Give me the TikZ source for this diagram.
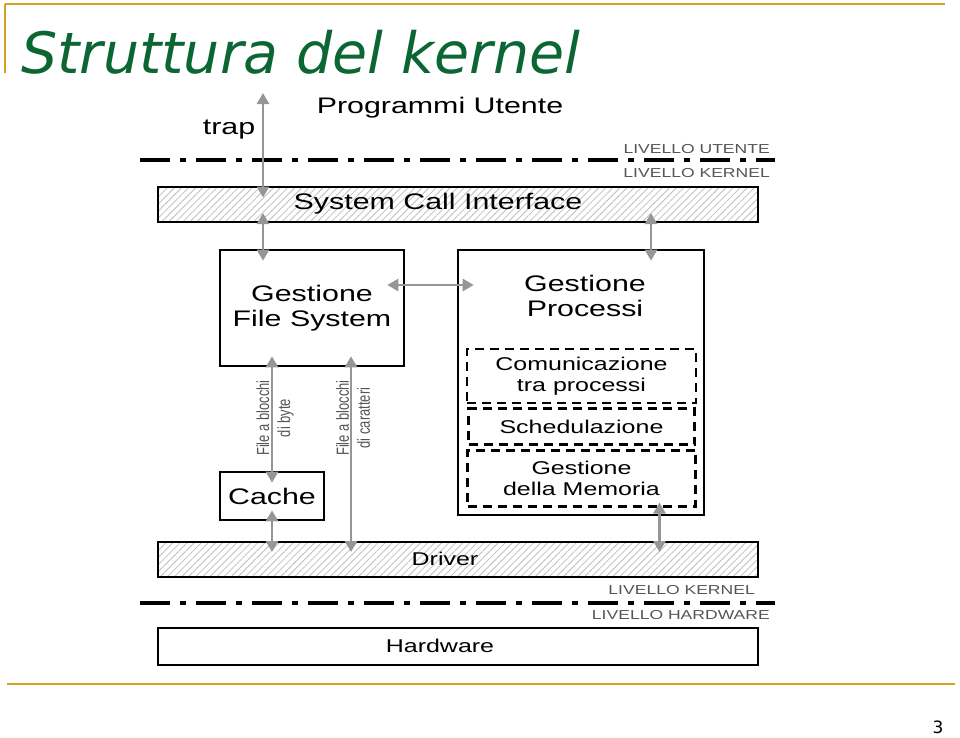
\documentclass[tikz,border=0pt]{standalone}
\usepackage{fontspec}
\newfontfamily\diafont[FakeStretch=1.35]{Liberation Sans}
\newfontfamily\narrowfont[FakeStretch=0.74]{Liberation Sans}
\newfontfamily\titlefont{DejaVu Sans}
\usetikzlibrary{arrows.meta, positioning, patterns.meta, calc}
\definecolor{titlegreen}{RGB}{12,102,52}
\definecolor{slidegold}{RGB}{212,162,30}
\definecolor{arrowgray}{RGB}{150,150,150}
\definecolor{labelgray}{RGB}{85,85,85}

\begin{document}
\begin{tikzpicture}[
    x=1pt, y=-1pt,
    layer/.style={rectangle, draw, line width=2.6pt, preaction={fill=white},
      pattern={Lines[angle=45, distance=5pt, line width=0.8pt]}, pattern color=gray!50,
      minimum width=600pt, minimum height=35pt},
    plain/.style={rectangle, draw, line width=2.6pt, fill=white, align=center},
    part/.style={rectangle, draw, line width=2.6pt, dash pattern=on 9pt off 6pt, align=center},
    border/.style={line width=3.6pt, dash pattern=on 30pt off 10pt on 6pt off 10pt},
    arrow/.style={<->, draw=arrowgray, line width=2.9pt, >={Triangle[length=11pt, width=12pt]}},
    big/.style={font=\diafont\fontsize{22.5}{25}\selectfont},
    small/.style={font=\diafont\fontsize{18.5}{20.5}\selectfont},
    level/.style={font=\diafont\fontsize{13}{15}\selectfont, text=labelgray, anchor=east, inner sep=0pt},
    side/.style={font=\narrowfont\fontsize{17.5}{21}\selectfont, text=labelgray, rotate=90, align=center, inner sep=0pt}
]
    \useasboundingbox (0,0) rectangle (960,737);

    % Slide frame
    \draw[slidegold, line width=2.5pt] (5,4) -- (945,4);
    \draw[slidegold, line width=2.5pt] (5,4) -- (5,73);
    \draw[slidegold, line width=2.5pt] (7,684) -- (955,684);
    \node[anchor=base west, inner sep=0pt, text=titlegreen,
      font=\titlefont\itshape\fontsize{57}{60}\selectfont] (title) at (21,73) {Struttura del kernel};
    \node[font=\titlefont\fontsize{17}{20}\selectfont] (page) at (938,727) {3};

    % User level
    \node[big] (prog) at (440,108) {Programmi Utente};
    \node[big] (trap) at (229,130) {trap};
    \coordinate (trapTop) at (263,93);

    \coordinate (userL) at (140,160);
    \coordinate (userR) at (775,160);
    \draw[border] (userL) -- (userR);
    \node[level] (lvUser) at (770,149) {LIVELLO UTENTE};
    \node[level] (lvKern) at (770,173) {LIVELLO KERNEL};

    % Kernel
    \node[layer] (sci) at (458,204.5) {};
    \node[big] (scitext) at (438,204) {System Call Interface};

    \node[plain, big, minimum width=184pt, minimum height=116pt] (fs) at (312,308) {Gestione\\File System};
    \node[plain, minimum width=246pt, minimum height=265pt] (gp) at (581,382.5) {};
    \node[big, align=center] (gptext) at (585,296) {Gestione\\Processi};

    \node[part, small, minimum width=229pt, minimum height=54pt] (comm) at (581.5,376) {Comunicazione\\tra processi};
    \node[part, small, minimum width=226pt, minimum height=36pt, below=3pt of comm] (sched) {Schedulazione};
    \node[part, small, minimum width=228pt, minimum height=56pt, below=3pt of sched] (mem) {Gestione\\della Memoria};

    \node[plain, big, minimum width=104pt, minimum height=48pt] (cache) at (272,496) {Cache};
    \node[side] (bytes) at (275,418) {File a blocchi\\di byte};
    \node[side] (chars) at (353,418) {File a blocchi\\di caratteri};

    \node[layer] (driver) at (458,559.5) {};
    \node[small] (drvtext) at (445,559) {Driver};

    % Hardware
    \node[level] (lvKern2) at (755,590) {LIVELLO KERNEL};
    \coordinate (hwL) at (140,603);
    \coordinate (hwR) at (775,603);
    \draw[border] (hwL) -- (hwR);
    \node[level] (lvHw) at (770,615) {LIVELLO HARDWARE};

    \node[plain, small, minimum width=600pt, minimum height=37pt] (hw) at (458,646.5) {};
    \node[small] (hwtext) at (440,646) {Hardware};

    % Arrows: system calls
    \draw[arrow] (trapTop) -- ($(trapTop |- sci.center)+(0,-7)$);
    \draw[arrow] ($(fs.north |- sci.center)+(-49,8.5)$) -- ($(fs.north)+(-49,12)$);
    \draw[arrow] ($(gp.north |- sci.center)+(70,8.5)$) -- ($(gp.north)+(70,12)$);
    \draw[arrow] ($(fs.east)+(-18,-23)$) -- ($(gp.west |- fs.east)+(17,-23)$);

    % Arrows: down to the drivers
    \draw[arrow] ($(cache.north |- fs.south)+(0,-11)$) -- ($(cache.north)+(0,12)$);
    \draw[arrow] ($(fs.south)+(39,-11)$) -- ($(fs.south |- driver.center)+(39,-7.5)$);
    \draw[arrow] ($(cache.south)+(0,-11)$) -- ($(cache.south |- driver.center)+(0,-7.5)$);
    \draw[arrow] ($(mem.south)+(78,-5)$) -- ($(mem.south |- driver.center)+(78,-7.5)$);

\end{tikzpicture}
\end{document}
